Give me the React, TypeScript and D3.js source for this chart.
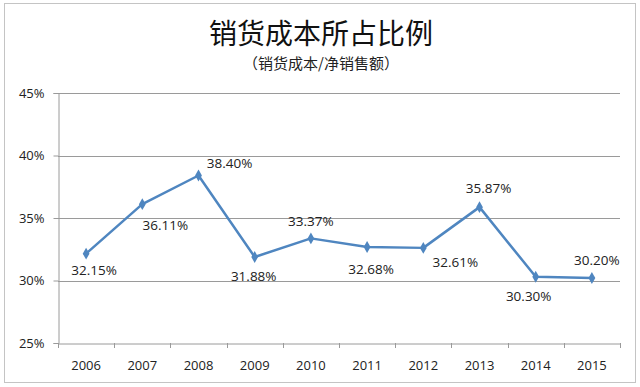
import React, { useEffect, useRef } from 'react';
import * as d3 from 'd3';

const years = ['2006', '2007', '2008', '2009', '2010', '2011', '2012', '2013', '2014', '2015'];
const ratios = [32.15, 36.11, 38.40, 31.88, 33.37, 32.68, 32.61, 35.87, 30.30, 30.20];
const yTicks = [25, 30, 35, 40, 45];
// label nudges relative to each point, [dx, dy]
const labelNudge = [
  [8, 17], [23, 21], [31, -12], [-1, 19], [0, -17],
  [4, 22], [32, 14], [9, -19], [-7, 20], [5, -18],
];

const W = 640;
const H = 387;
const margin = { top: 93, right: 20, bottom: 44, left: 58 };

export default function App() {
  const ref = useRef<SVGSVGElement>(null);

  useEffect(() => {
    document.body.style.margin = '0';
    const svg = d3.select(ref.current);
    svg.selectAll('*').remove();

    const width = W - margin.left - margin.right;
    const height = H - margin.top - margin.bottom;

    svg.append('rect')
      .attr('x', 4.5).attr('y', 3.5).attr('width', 631).attr('height', 379)
      .attr('fill', '#fff').attr('stroke', '#c4c4c4').attr('stroke-width', 1);

    svg.append('text')
      .attr('x', W / 2 + 1).attr('y', 44)
      .attr('text-anchor', 'middle')
      .style('font-family', '"Noto Sans CJK SC", sans-serif')
      .style('font-size', '28px').style('font-weight', '400').style('fill', '#111')
      .text('销货成本所占比例');
    svg.append('text')
      .attr('x', W / 2 + 1).attr('y', 69)
      .attr('text-anchor', 'middle')
      .style('font-family', '"Noto Sans CJK SC", sans-serif')
      .style('font-size', '15px').style('fill', '#222')
      .text('（销货成本/净销售额）');

    const g = svg.append('g').attr('transform', `translate(${margin.left},${margin.top})`);

    const x = d3.scaleBand().domain(years).range([0, width]);
    const y = d3.scaleLinear().domain([25, 45]).range([height, 0]);

    // gridlines
    g.selectAll('line.grid').data(yTicks.slice(1)).enter().append('line')
      .attr('x1', 0).attr('x2', width)
      .attr('y1', d => Math.round(y(d)) + 0.5).attr('y2', d => Math.round(y(d)) + 0.5)
      .attr('stroke', '#9a9a9a').attr('stroke-width', 1);

    const yAxis = g.append('g')
      .attr('transform', 'translate(0.5,0)')
      .call(d3.axisLeft(y).tickValues(yTicks).tickSize(5).tickFormat(d => `${d}%`));
    yAxis.selectAll('text')
      .style('font-family', '"Open Sans", sans-serif').style('font-size', '13px').style('fill', '#222')
      .attr('x', -14);

    const xAxis = g.append('g')
      .attr('transform', `translate(0,${Math.round(height) + 0.5})`)
      .call(d3.axisBottom(x).tickSize(0));
    xAxis.selectAll('text')
      .style('font-family', '"Open Sans", sans-serif').style('font-size', '13px').style('fill', '#222')
      .attr('y', 17);
    // boundary ticks between categories
    g.selectAll('line.xt').data(years.concat(['end'])).enter().append('line')
      .attr('x1', (_, i) => Math.round(i * x.bandwidth()) + 0.5)
      .attr('x2', (_, i) => Math.round(i * x.bandwidth()) + 0.5)
      .attr('y1', height).attr('y2', height + 5)
      .attr('stroke', '#9a9a9a');

    g.selectAll('.domain').attr('stroke', '#9a9a9a');
    g.selectAll('.tick line').attr('stroke', '#9a9a9a');

    const cx = (d: string) => (x(d) as number) + x.bandwidth() / 2;

    const line = d3.line<number>()
      .x((_, i) => cx(years[i]))
      .y(d => y(d));

    g.append('path').datum(ratios)
      .attr('fill', 'none').attr('stroke', '#4f86c0').attr('stroke-width', 2.5)
      .attr('stroke-linejoin', 'round')
      .attr('d', line);

    g.selectAll('path.mk').data(ratios).enter().append('path')
      .attr('transform', (d, i) => `translate(${cx(years[i])},${y(d)})`)
      .attr('d', d3.symbol(d3.symbolDiamond, 40)())
      .attr('fill', '#4f86c0');

    g.selectAll('text.lbl').data(ratios).enter().append('text')
      .attr('x', (d, i) => cx(years[i]) + labelNudge[i][0])
      .attr('y', (d, i) => y(d) + labelNudge[i][1])
      .attr('dy', '0.35em')
      .attr('text-anchor', 'middle')
      .style('font-family', '"Open Sans", sans-serif').style('font-size', '13.5px').style('fill', '#222')
      .text(d => `${d.toFixed(2)}%`);
  }, []);

  return <svg ref={ref} width={W} height={H} style={{ display: 'block' }} />;
}
